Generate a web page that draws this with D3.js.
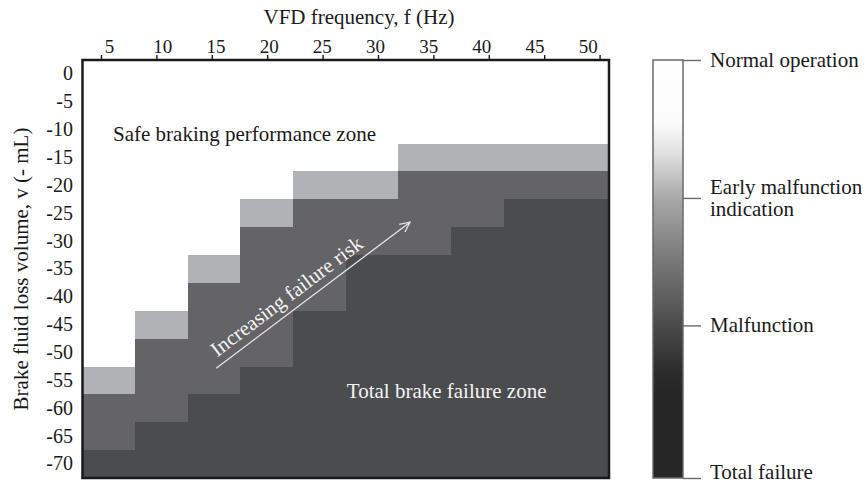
<!DOCTYPE html>
<html>
<head>
<meta charset="utf-8">
<script src="https://cdn.jsdelivr.net/npm/d3@7/dist/d3.min.js"></script>
<style>
  body { margin: 0; background: #ffffff; }
  text { font-family: "Liberation Serif", "Times New Roman", Times, serif; fill: #1a1a1a; }
</style>
</head>
<body>
<svg id="chart" width="868" height="485"></svg>
<script>
// ---------------- data ----------------
const frequencies = [5, 10, 15, 20, 25, 30, 35, 40, 45, 50];
const volumes = [0, -5, -10, -15, -20, -25, -30, -35, -40, -45, -50, -55, -60, -65, -70];
const statusNames = ["Normal operation", "Early malfunction indication", "Malfunction", "Total failure"];
const legendValues = [0, 0.33, 0.635, 1];

// status per frequency column, listed from v = 0 down to v = -70
// 0 = normal, 1 = early malfunction, 2 = malfunction, 3 = total failure
const statusAt5Hz  = [0,0,0,0,0,0,0,0,0,0,0,1,2,2,3];
const statusAt10Hz = [0,0,0,0,0,0,0,0,0,1,2,2,2,3,3];
const statusAt15Hz = [0,0,0,0,0,0,0,1,2,2,2,2,3,3,3];
const statusAt20Hz = [0,0,0,0,0,1,2,2,2,2,2,3,3,3,3];
const statusAt25Hz = [0,0,0,0,1,2,2,2,2,3,3,3,3,3,3];
const statusAt30Hz = [0,0,0,0,1,2,2,3,3,3,3,3,3,3,3];
const statusAt35Hz = [0,0,0,1,2,2,2,3,3,3,3,3,3,3,3];
const statusAt40Hz = [0,0,0,1,2,2,3,3,3,3,3,3,3,3,3];
const statusAt45Hz = [0,0,0,1,2,3,3,3,3,3,3,3,3,3,3];
const statusAt50Hz = [0,0,0,1,2,3,3,3,3,3,3,3,3,3,3];

const statusGrid = [statusAt5Hz, statusAt10Hz, statusAt15Hz, statusAt20Hz, statusAt25Hz,
                    statusAt30Hz, statusAt35Hz, statusAt40Hz, statusAt45Hz, statusAt50Hz];

const xTitle = "VFD frequency, f (Hz)";
const yTitle = "Brake fluid loss volume, v (- mL)";
const safeLabel = "Safe braking performance zone";
const failLabel = "Total brake failure zone";
const riskLabel = "Increasing failure risk";

// ---------------- layout ----------------
const svg = d3.select("#chart");
const X0 = 82.5, X1 = 609, Y0 = 60, Y1 = 478;

const cells = [];
frequencies.forEach((f, i) => volumes.forEach((v, j) => cells.push({ f, v, s: statusGrid[i][j] })));

const x = d3.scaleBand().domain(frequencies).range([X0, X1]).padding(0);
const y = d3.scaleBand().domain(volumes).range([Y0, Y1]).padding(0);
// continuous versions (column edges at 2.5 and 52.5 Hz, row edges at 2.5 and -72.5 mL)
const xLin = d3.scaleLinear().domain([2.5, 52.5]).range([X0, X1]);
const yLin = d3.scaleLinear().domain([2.5, -72.5]).range([Y0, Y1]);
// the published figure places tick marks and tick labels on slightly different spacings
const xTickMarks = d3.scaleLinear().domain([3.33, 50.85]).range([X0, X1]);
const xTickLabels = d3.scaleLinear().domain([2.5, 52]).range([X0, X1]);

const color = d3.scaleOrdinal().domain([0, 1, 2, 3]).range(["#ffffff", "#b1b2b5", "#646466", "#4b4c4e"]);

// ---------------- cells ----------------
svg.append("g").attr("shape-rendering", "crispEdges")
  .selectAll("rect").data(cells).join("rect")
  .attr("x", d => Math.round(x(d.f)))
  .attr("y", d => Math.round(y(d.v)))
  .attr("width", d => Math.round(x(d.f) + x.bandwidth()) - Math.round(x(d.f)) + 1)
  .attr("height", d => Math.round(y(d.v) + y.bandwidth()) - Math.round(y(d.v)) + 1)
  .attr("fill", d => color(d.s));

// ---------------- annotations inside plot ----------------
svg.append("text")
  .attr("x", xLin(5.4)).attr("y", yLin(-12.03))
  .style("font-size", "21px").style("fill", "#1a1a1a")
  .text(safeLabel);

svg.append("text")
  .attr("x", xLin(27.6)).attr("y", yLin(-58.15))
  .style("font-size", "21px").style("fill", "#f4f4f4")
  .text(failLabel);

// arrow
const a0 = [xLin(15.2), yLin(-52.8)], a1 = [xLin(33.6), yLin(-26.6)];
const ang = Math.atan2(a1[1] - a0[1], a1[0] - a0[0]);
const arrowG = svg.append("g");
arrowG.append("line")
  .attr("x1", a0[0]).attr("y1", a0[1]).attr("x2", a1[0]).attr("y2", a1[1])
  .attr("stroke", "#e6e6e6").attr("stroke-width", 1.3);
const headLen = 11, headAng = 0.45;
arrowG.append("path")
  .attr("d", d3.line()([
    [a1[0] - headLen * Math.cos(ang - headAng), a1[1] - headLen * Math.sin(ang - headAng)],
    a1,
    [a1[0] - headLen * Math.cos(ang + headAng), a1[1] - headLen * Math.sin(ang + headAng)]
  ]))
  .attr("fill", "none").attr("stroke", "#e6e6e6").attr("stroke-width", 1.3);
const tpos = 0.41;
const tp = [a0[0] + (a1[0] - a0[0]) * tpos, a0[1] + (a1[1] - a0[1]) * tpos];
arrowG.append("text")
  .attr("transform", `translate(${tp[0]},${tp[1]}) rotate(${ang * 180 / Math.PI})`)
  .attr("y", -8)
  .attr("text-anchor", "middle")
  .style("font-size", "21px").style("fill", "#f4f4f4")
  .text(riskLabel);

// ---------------- frame ----------------
svg.append("rect")
  .attr("x", X0).attr("y", Y0).attr("width", X1 - X0).attr("height", Y1 - Y0)
  .attr("fill", "none").attr("stroke", "#1a1a1a").attr("stroke-width", 2.5);

// ---------------- axes ----------------
const tickG = svg.append("g").attr("transform", `translate(0,${Y0})`)
  .call(d3.axisTop(xTickMarks).tickValues(frequencies).tickSize(5).tickFormat(""));
tickG.select(".domain").remove();
tickG.selectAll("line").attr("stroke", "#1a1a1a").attr("stroke-width", 1.4);

const labG = svg.append("g").attr("transform", `translate(0,${Y0})`)
  .call(d3.axisTop(xTickLabels).tickValues(frequencies).tickSize(0).tickPadding(7.5));
labG.select(".domain").remove();
labG.selectAll("text").style("font-size", "19px").style("font-family", null).attr("fill", "#1a1a1a");

const yG = svg.append("g").attr("transform", `translate(${X0},0)`)
  .call(d3.axisLeft(y).tickSize(0).tickPadding(9.5));
yG.select(".domain").remove();
yG.selectAll("text").style("font-size", "20px").style("font-family", null).attr("fill", "#1a1a1a");

svg.append("text")
  .attr("x", 359).attr("y", 24)
  .attr("text-anchor", "middle")
  .style("font-size", "21px")
  .text(xTitle);

svg.append("text")
  .attr("transform", `translate(28,${(Y0 + Y1) / 2}) rotate(-90)`)
  .attr("text-anchor", "middle")
  .style("font-size", "21px")
  .text(yTitle);

// ---------------- colour bar ----------------
const CB_X = 653, CB_W = 30;
const legendScale = d3.scaleLinear().domain([0, 1]).range([Y0, Y1]);
const defs = svg.append("defs");
const grad = defs.append("linearGradient").attr("id", "cbGrad")
  .attr("x1", 0).attr("y1", 0).attr("x2", 0).attr("y2", 1);
const gradStops = [
  [0, "#ffffff"], [0.15, "#fbfbfb"], [0.22, "#e2e2e2"], [0.33, "#a9a9a9"], [0.46, "#7e7e7e"],
  [0.634, "#4b4b4b"], [0.75, "#2b2b2b"], [0.8, "#262626"], [1, "#262626"]
];
grad.selectAll("stop").data(gradStops).join("stop")
  .attr("offset", d => d[0]).attr("stop-color", d => d[1]);

svg.append("rect")
  .attr("x", CB_X).attr("y", Y0).attr("width", CB_W).attr("height", Y1 - Y0)
  .attr("fill", "url(#cbGrad)").attr("stroke", "#6a6a6a").attr("stroke-width", 1.5);

const cbAxis = svg.append("g").attr("transform", `translate(${CB_X + CB_W},0)`)
  .call(d3.axisRight(legendScale).tickValues(legendValues).tickSize(18).tickFormat(""));
cbAxis.select(".domain").remove();
cbAxis.selectAll("line").attr("stroke", "#6a6a6a").attr("stroke-width", 1.4);

const legendText = svg.append("g");
statusNames.forEach((name, i) => {
  const yy = legendScale(legendValues[i]);
  const t = legendText.append("text").attr("x", 710).attr("y", yy).style("font-size", "21px");
  if (name === "Early malfunction indication") {
    t.append("tspan").attr("x", 710).attr("dy", -4).text("Early malfunction");
    t.append("tspan").attr("x", 710).attr("dy", 22).text("indication");
  } else if (name === "Total failure") {
    t.attr("dy", "0.05em").text(name);
  } else {
    t.attr("dy", "0.33em").text(name);
  }
});
</script>
</body>
</html>
